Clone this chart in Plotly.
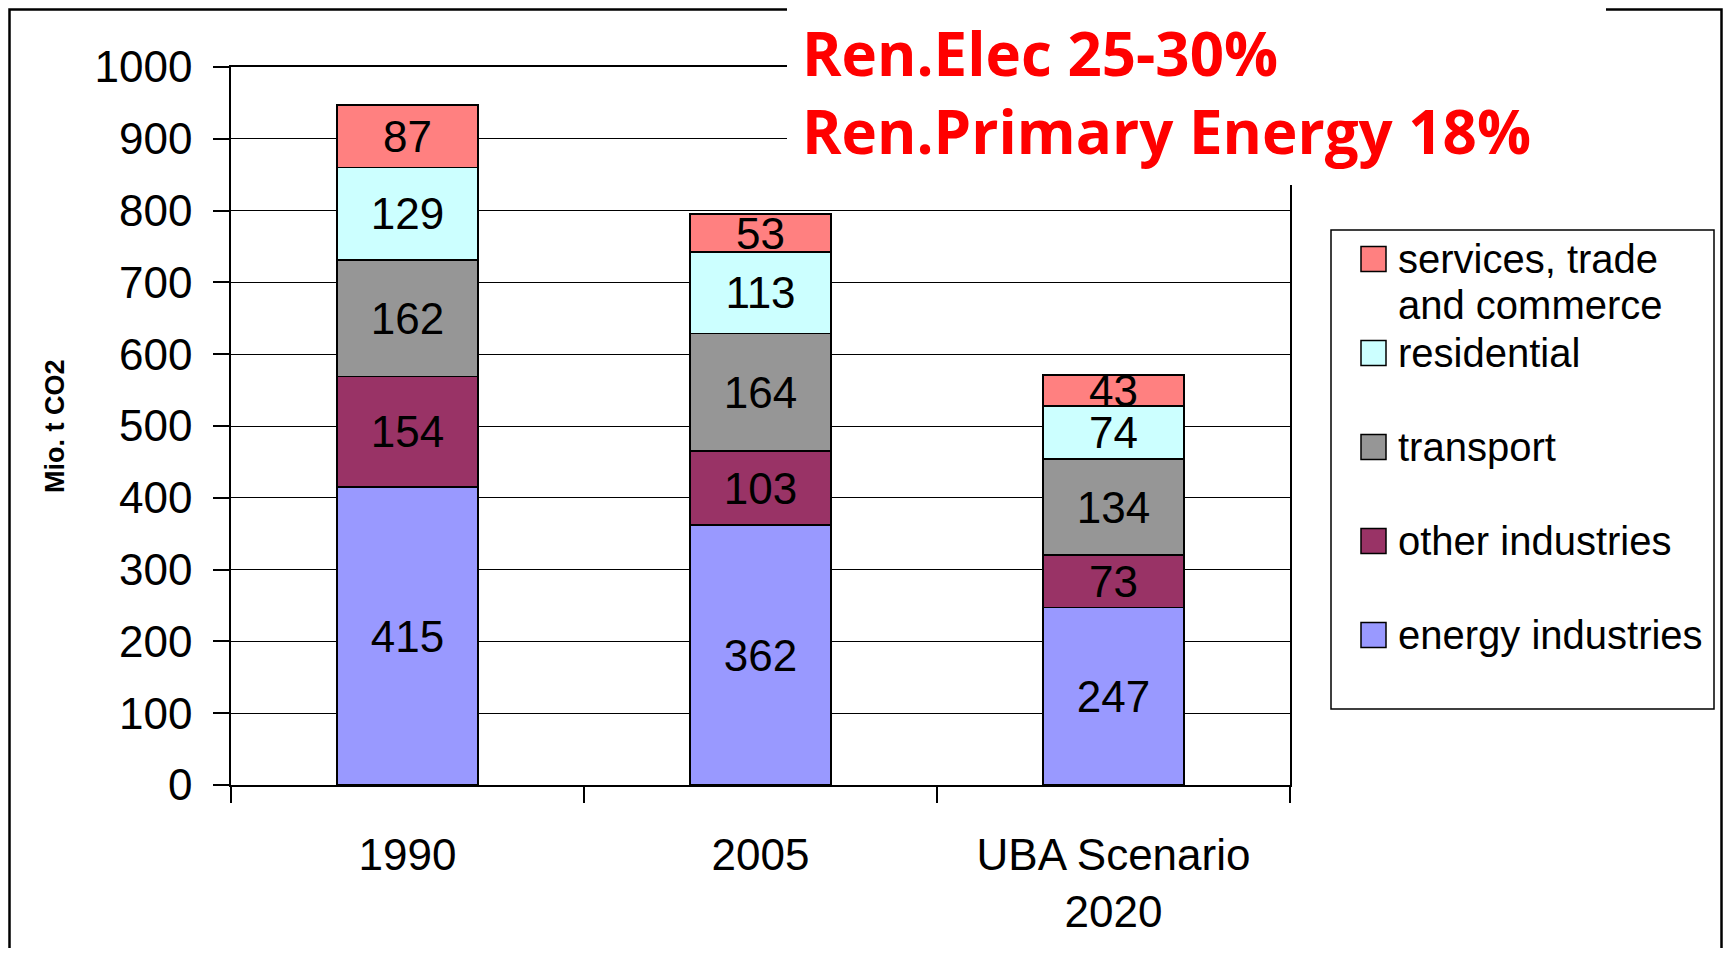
import plotly.graph_objects as go

# ---------------- data ----------------
categories = ["1990", "2005", "UBA Scenario<br>2020"]
series_names = ["energy industries", "other industries", "transport",
                "residential", "services, trade<br>and commerce"]
energy_industries = [415, 362, 247]
other_industries = [154, 103, 73]
transport = [162, 164, 134]
residential = [129, 113, 74]
services = [87, 53, 43]
series_values = [energy_industries, other_industries, transport, residential, services]
series_colors = ["#9999FF", "#993366", "#969696", "#CCFFFF", "#FF8080"]
y_tick_values = [0, 100, 200, 300, 400, 500, 600, 700, 800, 900, 1000]
y_title = "Mio. t CO2"
note_lines = ["Ren.Elec 25-30%", "Ren.Primary Energy 18%"]

# ---------------- layout geometry (page pixels) ----------------
OFF = 8  # default body margin of the html page
W, H = 1731 - 2 * OFF, 956 - 2 * OFF  # figure size, avoids scrollbars
PL, PR, PT, PB = 231, 1290, 67, 785  # plot box in page pixels
L, R, T, B = PL - OFF, PR - OFF, PT - OFF, PB - OFF  # in figure pixels


def px(x):
    return (x - PL) / (PR - PL)


def py(y):
    return (PB - y) / (PB - PT)


FONT = "Arial, Liberation Sans, sans-serif"

fig = go.Figure()
for name, vals, col in zip(series_names, series_values, series_colors):
    fig.add_trace(go.Bar(
        x=categories, y=vals, name=name,
        marker=dict(color=col, line=dict(color="black", width=1.5)),
        texttemplate="%{y}", textposition="inside", insidetextanchor="middle",
        constraintext="none", textangle=0,
        textfont=dict(family=FONT, size=44, color="black"),
        showlegend=False,
    ))

shapes = []
annotations = []

# outer chart border
shapes.append(dict(type="rect", xref="paper", yref="paper",
                   x0=px(OFF + 1.5), x1=px(OFF + W - 1.5), y0=py(OFF + H + 20), y1=py(OFF + 1.5),
                   line=dict(color="black", width=2.5), fillcolor="rgba(0,0,0,0)",
                   layer="above"))
# white text box of the note
shapes.append(dict(type="rect", xref="paper", yref="paper",
                   x0=px(787), x1=px(1606), y0=py(185), y1=py(-10),
                   line=dict(width=0), fillcolor="white", layer="above"))
annotations.append(dict(xref="paper", yref="paper", x=px(800), y=py(OFF + 2),
                        xanchor="left", yanchor="top", showarrow=False, align="left",
                        text="<br>".join("<b>" + s + "</b>" for s in note_lines),
                        font=dict(family="Comic Sans MS, Open Sans, sans-serif",
                                  size=60, color="#FF0000")))

# y-axis title
annotations.append(dict(xref="paper", yref="paper", x=px(55), y=py(426),
                        xanchor="center", yanchor="middle", showarrow=False,
                        textangle=-90, text="<b>" + y_title + "</b>",
                        font=dict(family=FONT, size=27, color="black")))

# manual legend (top item = last series)
shapes.append(dict(type="rect", xref="paper", yref="paper",
                   x0=px(1331), x1=px(1714), y0=py(709), y1=py(230),
                   line=dict(color="black", width=1.5), fillcolor="white",
                   layer="above"))
for k, idx in enumerate(reversed(range(len(series_names)))):
    cy = 259 + 94 * k
    shapes.append(dict(type="rect", xref="paper", yref="paper",
                       x0=px(1361), x1=px(1386), y0=py(cy + 12.5), y1=py(cy - 12.5),
                       line=dict(color="black", width=1.5),
                       fillcolor=series_colors[idx], layer="above"))
    for j, part in enumerate(series_names[idx].split("<br>")):
        annotations.append(dict(xref="paper", yref="paper", x=px(1396), y=py(cy + 46 * j),
                                xanchor="left", yanchor="middle", showarrow=False,
                                text=part, font=dict(family=FONT, size=40, color="black")))

fig.update_layout(
    width=W, height=H,
    margin=dict(l=L, r=W - R, t=T, b=H - B, autoexpand=False),
    paper_bgcolor="white", plot_bgcolor="white",
    barmode="stack", bargap=0.6,
    showlegend=False,
    shapes=shapes, annotations=annotations,
    font=dict(family=FONT, color="black"),
)
fig.update_xaxes(
    type="category", tickson="boundaries", ticks="outside", ticklen=16,
    tickwidth=1.5, tickcolor="black", showline=True, linecolor="black",
    linewidth=1.5, mirror=True, showgrid=False,
    tickfont=dict(family=FONT, size=44, color="black"),
    ticklabelstandoff=30,
)
fig.update_yaxes(
    range=[0, 1000], tickvals=y_tick_values, ticks="outside", ticklen=16,
    tickwidth=1.5, tickcolor="black", showline=True, linecolor="black",
    linewidth=1.5, mirror=True, showgrid=True, gridcolor="black", gridwidth=1,
    zeroline=False,
    tickfont=dict(family=FONT, size=44, color="black"),
    ticklabelstandoff=12,
)

fig.write_html("out.html")
